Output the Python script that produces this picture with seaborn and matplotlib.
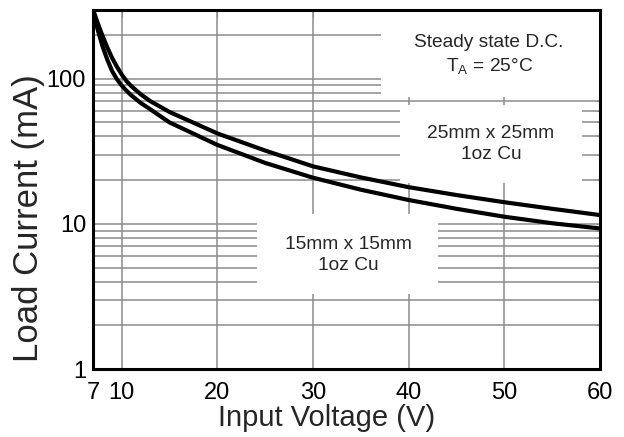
import matplotlib
matplotlib.use("Agg")
import matplotlib.pyplot as plt
from matplotlib.patches import Rectangle
from matplotlib.ticker import FixedLocator, LogLocator, NullFormatter, FixedFormatter
import seaborn as sns
import pandas as pd

# ---- data ----
voltage = [7, 7.5, 8, 8.5, 9, 9.5, 10, 10.5, 11, 12, 13, 15, 20, 25, 30, 35, 40, 45, 50, 55, 60]
current_25mm = [300, 241, 197, 164, 139, 121, 107, 96.3, 89, 78, 70, 59, 42, 32, 24.9,
                20.9, 17.9, 15.8, 14.1, 12.7, 11.5]
current_15mm = [285, 217, 167, 135, 113, 99.2, 89.9, 82.7, 76.9, 68, 61.5, 50, 35, 26.3, 20.8,
                17.2, 14.6, 12.7, 11.2, 10.1, 9.3]
series_names = ["25mm x 25mm", "15mm x 15mm"]

x_tick_values = [7, 10, 20, 30, 40, 50, 60]
x_tick_labels = ["7", "10", "20", "30", "40", "50", "60"]
x_minor_values = [15, 25, 35, 45, 55]
y_tick_values = [1, 10, 100]
y_tick_labels = ["1", "10", "100"]

df = pd.DataFrame({
    "voltage": voltage * 2,
    "current": current_25mm + current_15mm,
    "board": [series_names[0]] * len(voltage) + [series_names[1]] * len(voltage),
})

sns.set_style("white")
plt.rcParams["font.family"] = ["Liberation Sans", "DejaVu Sans"]
plt.rcParams["mathtext.fontset"] = "custom"
plt.rcParams["mathtext.rm"] = "Liberation Sans"
plt.rcParams["mathtext.it"] = "Liberation Sans"

fig = plt.figure(figsize=(6.24, 4.37), dpi=100)
ax = fig.add_axes([93 / 624, 1 - 369 / 437, 507 / 624, 359.5 / 437])

sns.lineplot(data=df, x="voltage", y="current", units="board", estimator=None,
             color="black", linewidth=3.0, ax=ax, zorder=3, legend=False)

ax.set_yscale("log")
ax.set_xlim(7, 60)
ax.set_ylim(1, 300)

ax.xaxis.set_major_locator(FixedLocator(x_tick_values))
ax.xaxis.set_major_formatter(FixedFormatter(x_tick_labels))
ax.xaxis.set_minor_locator(FixedLocator(x_minor_values))
ax.yaxis.set_major_locator(FixedLocator(y_tick_values))
ax.yaxis.set_major_formatter(FixedFormatter(y_tick_labels))
ax.yaxis.set_minor_locator(LogLocator(base=10, subs=range(2, 10)))
ax.yaxis.set_minor_formatter(NullFormatter())

ax.set_axisbelow(True)
grid_kw = dict(color="#8c8c8c", linewidth=1.1)
ax.grid(axis="x", which="major", **grid_kw)
ax.grid(axis="y", which="both", **grid_kw)

ax.tick_params(axis="both", which="both", direction="in", colors="#8c8c8c",
               labelcolor="black", top=True, right=True)
ax.tick_params(axis="x", which="major", length=5, pad=9.5, labelsize=17)
ax.tick_params(axis="x", which="minor", length=3, top=False)
ax.tick_params(axis="y", which="both", length=3, pad=5, labelsize=17)

for s in ax.spines.values():
    s.set_color("black")
    s.set_linewidth(2.2)
    s.set_zorder(4)

ax.set_xlabel("Input Voltage (V)", fontsize=21, labelpad=0)
ax.set_ylabel("Load Current (mA)", fontsize=25, labelpad=1.5)
ax.xaxis.label.set_x(0.4615)
ax.yaxis.label.set_y(0.42)

# white backgrounds behind the annotations (they interrupt the grid)
mask_kw = dict(facecolor="white", edgecolor="none", zorder=1)
ax.add_patch(Rectangle((37.1, 75), 60 - 37.1, 300 - 75, **mask_kw))
ax.add_patch(Rectangle((39.1, 19.2), 58.1 - 39.1, 66 - 19.2, **mask_kw))
ax.add_patch(Rectangle((24.1, 3.29), 43.1 - 24.1, 11.7 - 3.29, **mask_kw))

text_kw = dict(ha="center", va="center", fontsize=13.8, linespacing=1.3, zorder=5)
ax.text(48.4, 146, "Steady state D.C.\nT$_{\\mathregular{A}}$ = 25°C", **text_kw)
ax.text(48.6, 35.6, "25mm x 25mm\n1oz Cu", **text_kw)
ax.text(33.7, 6.1, "15mm x 15mm\n1oz Cu", **text_kw)

fig.savefig("out.png", dpi=100)
